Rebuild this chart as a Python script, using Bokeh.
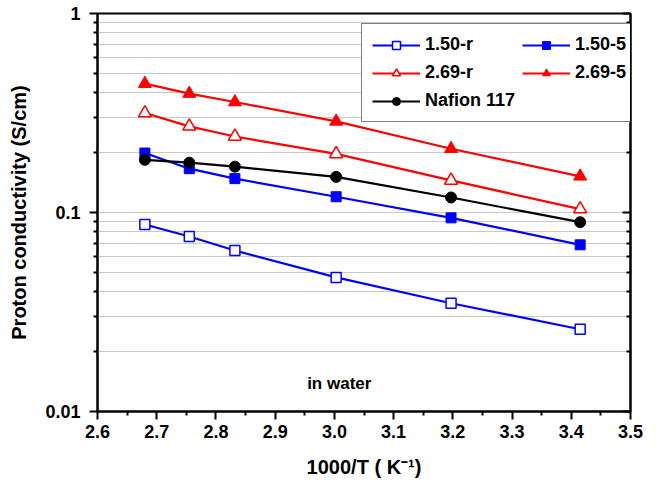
from bokeh.plotting import figure
from bokeh.models import (LogAxis, FixedTicker, Legend, LegendItem, Label,
                          NumeralTickFormatter)
from bokeh.embed import file_html
from bokeh.resources import INLINE

# ---- data ----
inv_T = [2.68, 2.755, 2.832, 3.003, 3.197, 3.415]
s150_r = [0.087, 0.0757, 0.0644, 0.0472, 0.035, 0.0259]
s150_5 = [0.199, 0.166, 0.148, 0.120, 0.094, 0.0688]
s269_r = [0.316, 0.271, 0.241, 0.197, 0.145, 0.104]
s269_5 = [0.444, 0.396, 0.359, 0.287, 0.209, 0.152]
nafion = [0.184, 0.178, 0.170, 0.151, 0.119, 0.0894]

series_names = ["1.50-r", "1.50-5", "2.69-r", "2.69-5", "Nafion 117"]

xticks = [2.6, 2.7, 2.8, 2.9, 3.0, 3.1, 3.2, 3.3, 3.4, 3.5]
xminor = [2.65, 2.75, 2.85, 2.95, 3.05, 3.15, 3.25, 3.35, 3.45]
yticks = [0.01, 0.1, 1.0]
ytick_labels = ["0.01", "0.1", "1"]
yminor = [0.02, 0.03, 0.04, 0.05, 0.06, 0.07, 0.08, 0.09,
          0.2, 0.3, 0.4, 0.5, 0.6, 0.7, 0.8, 0.9]

note_text = "in water"
note_x = 2.954
note_y = 0.0139

FONT = "Liberation Sans"

p = figure(width=661, height=488, y_axis_type="log",
           x_range=(2.6, 3.5), y_range=(0.01, 1.0),
           output_backend="svg", toolbar_location=None,
           min_border_left=97, min_border_right=31,
           min_border_top=13, min_border_bottom=77)

p.outline_line_color = "black"
p.outline_line_width = 2
p.background_fill_color = "white"

# x axis
xt = FixedTicker(ticks=xticks, minor_ticks=xminor)
xa = p.xaxis[0]
xa.ticker = xt
xa.formatter = NumeralTickFormatter(format="0.0")
xa.axis_label = "1000/T ( K\u207b\u00b9)"

# y axis
yt = FixedTicker(ticks=yticks, minor_ticks=yminor)
ya = p.yaxis[0]
ya.ticker = yt
ya.major_label_overrides = dict(zip(yticks, ytick_labels))
ya.axis_label = "Proton conductivity (S/cm)"

for ax in (xa, ya):
    ax.axis_line_width = 2
    ax.major_tick_line_width = 2
    ax.minor_tick_line_width = 2
    ax.major_tick_out = 8
    ax.major_tick_in = 0
    ax.minor_tick_out = 4
    ax.minor_tick_in = 0
    ax.major_label_text_font = FONT
    ax.major_label_text_font_style = "bold"
    ax.major_label_text_font_size = "18px"
    ax.major_label_text_color = "black"
    ax.axis_label_text_font = FONT
    ax.axis_label_text_font_style = "bold"
    ax.axis_label_text_font_size = "20px"
    ax.axis_label_text_color = "black"

xa.major_label_standoff = 5
xa.axis_label_standoff = 15
ya.major_label_standoff = 9
ya.axis_label_standoff = 12

# right axis (ticks only, inward)
ra = LogAxis(ticker=yt, axis_line_width=2, major_tick_line_width=2,
             minor_tick_line_width=2, major_tick_in=8, major_tick_out=0,
             minor_tick_in=4, minor_tick_out=0,
             major_label_text_font_size="0px", major_label_standoff=0)
ra.major_label_overrides = dict(zip(yticks, ["", "", ""]))
p.add_layout(ra, "right")

# grid
p.xgrid.visible = False
p.ygrid.ticker = yt
p.ygrid.grid_line_color = "#c8c8c8"
p.ygrid.grid_line_width = 1
p.ygrid.minor_grid_line_color = "#c8c8c8"
p.ygrid.minor_grid_line_width = 1

# series
LW = 2.2
r = {}
l1 = p.line(inv_T, s150_r, line_color="blue", line_width=LW)
m1 = p.scatter(inv_T, s150_r, marker="square", size=10, line_color="blue",
               line_width=1.5, fill_color="white")
r[series_names[0]] = [l1, m1]

l2 = p.line(inv_T, s150_5, line_color="blue", line_width=LW)
m2 = p.scatter(inv_T, s150_5, marker="square", size=10, line_color="blue",
               fill_color="blue")
r[series_names[1]] = [l2, m2]

l3 = p.line(inv_T, s269_r, line_color="red", line_width=LW)
m3 = p.scatter(inv_T, s269_r, marker="triangle", size=13, line_color="red",
               line_width=1.5, fill_color="white")
r[series_names[2]] = [l3, m3]

l4 = p.line(inv_T, s269_5, line_color="red", line_width=LW)
m4 = p.scatter(inv_T, s269_5, marker="triangle", size=13, line_color="red",
               fill_color="red")
r[series_names[3]] = [l4, m4]

l5 = p.line(inv_T, nafion, line_color="black", line_width=LW)
m5 = p.scatter(inv_T, nafion, marker="circle", size=11, line_color="black",
               fill_color="black")
r[series_names[4]] = [l5, m5]

# legend is filled column by column: first column r, r, Nafion; second 5, 5
legend_order = [series_names[0], series_names[2], series_names[4],
                series_names[1], series_names[3]]
items = [LegendItem(label=n, renderers=r[n]) for n in legend_order]

legend = Legend(items=items, ncols=2, location=(264, 289),
                label_text_font=FONT, label_text_font_style="bold",
                label_text_font_size="18px", label_text_color="black",
                border_line_color="black", border_line_width=1.5,
                background_fill_color="white", background_fill_alpha=1,
                padding=10, spacing=7, margin=0,
                glyph_width=48, glyph_height=20, label_height=20,
                label_standoff=5)
p.add_layout(legend, "center")

p.add_layout(Label(x=note_x, y=note_y, text=note_text,
                   text_font=FONT, text_font_style="bold",
                   text_font_size="17px", text_baseline="middle",
                   text_color="black"))

open("out.html", "w").write(file_html(p, INLINE))
